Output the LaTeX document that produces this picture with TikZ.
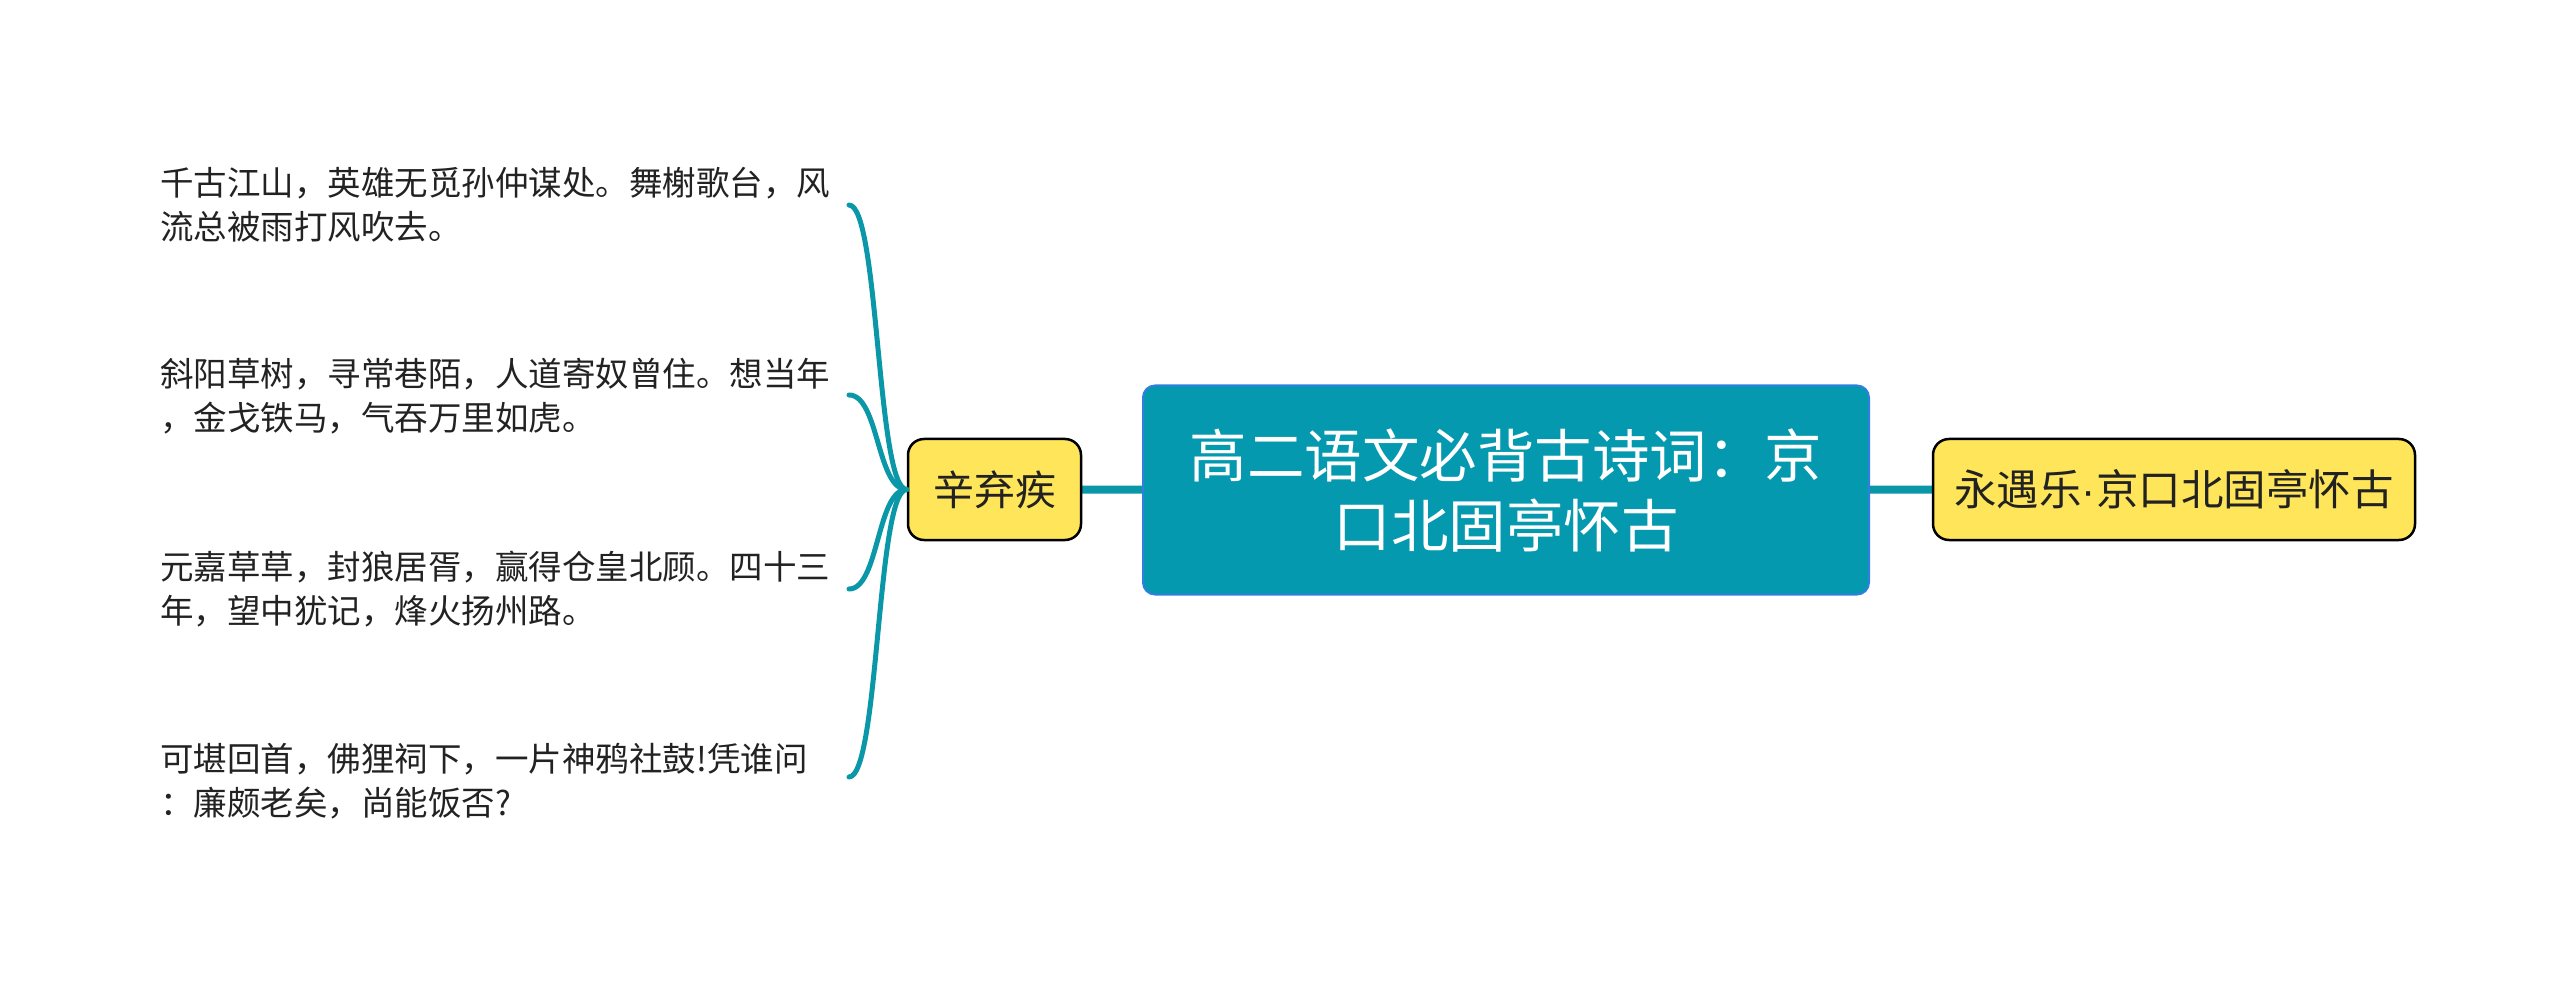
\documentclass[tikz,border=0pt]{standalone}
\usepackage{fontspec}
\usetikzlibrary{backgrounds}
\setmainfont{Noto Sans CJK SC}
\newfontfamily\dotfont{Liberation Sans}
\definecolor{teal1}{HTML}{0499AE}
\definecolor{tealline}{HTML}{0A97A8}
\definecolor{blueb}{HTML}{2F7FE0}
\definecolor{yel}{HTML}{FFE55A}
\definecolor{txt}{HTML}{222222}
\tikzset{
  central/.style={draw=blueb, line width=2pt, fill=teal1, rounded corners=12pt,
    minimum width=726pt, minimum height=209pt, text=white, align=center,
    font=\fontsize{57.5}{70}\selectfont, inner sep=0pt},
  topic/.style={draw=black, line width=2.5pt, fill=yel, rounded corners=16pt,
    minimum height=101pt, text=txt, align=center,
    font=\fontsize{41}{50}\selectfont, inner sep=0pt},
  leaf/.style={anchor=west, align=left, text=txt, inner sep=0pt,
    font=\fontsize{33.5}{44}\selectfont},
  conn/.style={draw=tealline, line width=8pt},
  curve/.style={draw=tealline, line width=5pt, line cap=round},
}
\begin{document}
\begin{tikzpicture}[x=1pt,y=-1pt]
\useasboundingbox (0,0) rectangle (2560,981);
\node[central] (c) at (1506,490) {高二语文必背古诗词：京\\口北固亭怀古};
\node[topic, minimum width=173pt] (l) at (994.5,489.5) {辛弃疾};
\node[topic, minimum width=482pt, font=\fontsize{42.5}{50}\selectfont] (r) at (2174,489.5) {永遇乐{\dotfont\fontsize{42.5}{50}\selectfont ·}京口北固亭怀古};
\begin{scope}[on background layer]
\draw[conn] (l.center) -- (c.center);
\draw[conn] (c.center) -- (r.center);
\end{scope}
\node[leaf] (a1) at (160,205) {千古江山，英雄无觅孙仲谋处。舞榭歌台，风\\流总被雨打风吹去。};
\node[leaf] (a2) at (160,396) {斜阳草树，寻常巷陌，人道寄奴曾住。想当年\\，金戈铁马，气吞万里如虎。};
\node[leaf] (a3) at (160,589) {元嘉草草，封狼居胥，赢得仓皇北顾。四十三\\年，望中犹记，烽火扬州路。};
\node[leaf] (a4) at (160,781) {可堪回首，佛狸祠下，一片神鸦社鼓!凭谁问\\：廉颇老矣，尚能饭否?};
\coordinate (e1) at (849,205);
\coordinate (e2) at (849,395);
\coordinate (e3) at (849,589);
\coordinate (e4) at (849,777);
\foreach \e in {e1,e2,e3,e4}{
  \draw[curve] (l.west) .. controls +(-30,0) and +(30,0) .. (\e);
}
\end{tikzpicture}
\end{document}
